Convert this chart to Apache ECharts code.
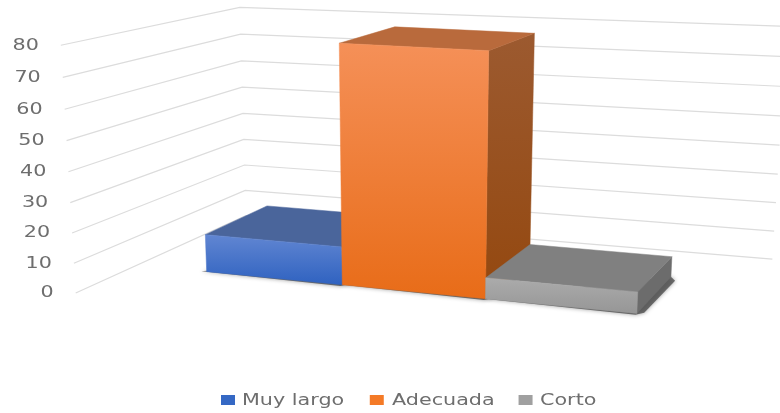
<!DOCTYPE html>
<html><head><meta charset="utf-8"><style>html,body{margin:0;background:#fff}#c{width:780px;height:413px;filter:blur(0.5px)}</style>
<script src="https://cdn.jsdelivr.net/npm/echarts@6/dist/echarts.min.js"></script></head><body><div id="c"></div>
<script>
const categories=['Muy largo','Adecuada','Corto'];
const values=[13,80,7];
const yTicks=[0,10,20,30,40,50,60,70,80];
const palette=[
 {front:['#6186d2','#2f62c0'],top:'#4a659b',side:'#3a5590',key:'#3568c4'},
 {front:['#f59058','#e86c18'],top:'#b96a3c',side:['#9c5a30','#94480f'],key:'#f47a27'},
 {front:['#ababab','#969696'],top:'#808080',side:'#6c6c6c',key:'#a0a0a0'}
];
// Camera of the 3D view: world (category position, depth, value) to screen.
const camera=[126.535,81.0883,-0.206795,206.681, 5.60998,-13.3141,-2.96113,271.660, -0.0264842,0.0741391,-0.000500607];
const project=(u,d,v)=>{const P=camera,w=P[8]*u+P[9]*d+P[10]*v+1;return [(P[0]*u+P[1]*d+P[2]*v+P[3])/w,(P[4]*u+P[5]*d+P[6]*v+P[7])/w];};
// Wall layout: bounds in world units and small per-corner corrections of the value scale.
const W={uL:-0.58,uR:3.55,dF:-0.75,dB:1.85,front:[1.012,-1],corner:[1.016,-1.7],end:[1.03,-1.2]};
const G={left:0,top:0,width:300,height:300};
const maxV=80;
const chart=echarts.init(document.getElementById('c'));
const flat=(api,i,val)=>{const p=api.coord([i,val]);const band=api.size([1,0])[0];return {u:(p[0]-G.left)/band,v:(G.top+G.height-p[1])/G.height*maxV};};
const grad=(c)=>Array.isArray(c)?{type:'linear',x:0,y:0,x2:0,y2:1,colorStops:[{offset:0,color:c[0]},{offset:1,color:c[1]}]}:c;
const poly=(pts,fill)=>({type:'polygon',shape:{points:pts},style:{fill:grad(fill),stroke:grad(fill),lineWidth:.5},z2:1});
function barItem(i){return function(params,api){
 const f=flat(api,i,api.value(1));const c=palette[i];
 const l=f.u-.5,r=f.u+.5,v=f.v;
 const q=project;
 return {type:'group',children:[
  {type:'polygon',z2:-1,shape:{points:[q(l-.04,0,0),q(r,-.035,0),q(r+.04,.03,0),q(r+.05,.9,0),q(r,1,0)]},style:{fill:'rgba(70,70,70,.75)',shadowBlur:4,shadowColor:'rgba(0,0,0,.5)'}},
  poly([q(r,0,0),q(r,1,0),q(r,1,v),q(r,0,v)],c.side),
  poly([q(l,0,v),q(r,0,v),q(r,1,v),q(l,1,v)],c.top),
  poly([q(l,0,0),q(r,0,0),q(r,0,v),q(l,0,v)],c.front)
 ]};
};}
function gridItem(params,api){
 const val=api.value(0);const v=flat(api,0,val).v;
 const s=(k)=>v*k[0]+k[1];
 const a=project(W.uL,W.dF,s(W.front)),b=project(W.uL,W.dB,s(W.corner)),c=project(W.uR,W.dB,s(W.end));
 return {type:'group',children:[
  {type:'polyline',shape:{points:[a,b,c]},style:{fill:null,stroke:'#dcdcdc',lineWidth:1.2}},
  {type:'text',x:a[0]-22,y:a[1]+.5,scaleX:1.38,style:{text:String(val),fontFamily:'DejaVu Sans',fontSize:15,fill:'#6e6e6e',align:'right',verticalAlign:'middle'}}
 ]};
}
const legendX=[242,392,540];
chart.setOption({animation:false,
 grid:{left:G.left,top:G.top,width:G.width,height:G.height,show:false},
 xAxis:{type:'category',data:categories,show:false},
 yAxis:{type:'value',min:0,max:maxV,interval:10,show:false},
 legend:{data:categories,left:216,top:390,icon:'rect',itemWidth:14,itemHeight:10,itemGap:127,selectedMode:false,formatter:()=>' ',textStyle:{fontSize:10}},
 graphic:categories.map((n,i)=>({type:'text',x:legendX[i],y:401,scaleX:1.38,style:{text:n,fontFamily:'DejaVu Sans',fontSize:15,fill:'#6e6e6e',verticalAlign:'middle'}})),
 series:[
  {type:'custom',name:'grid',z:1,data:yTicks.map(t=>[t]),encode:{y:0},renderItem:gridItem,silent:true},
  ...categories.map((n,i)=>({type:'custom',name:n,z:2,itemStyle:{color:palette[i].key},data:[[i,values[i]]],encode:{x:0,y:1},renderItem:barItem(i),silent:true}))
 ]});
</script></body></html>
